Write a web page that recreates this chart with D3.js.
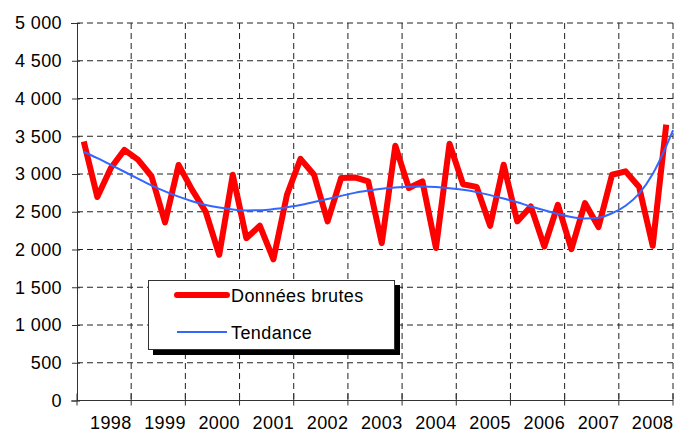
<!DOCTYPE html>
<html>
<head>
<meta charset="utf-8">
<script src="https://cdn.jsdelivr.net/npm/d3@7"></script>
<style>
  body { margin: 0; background: #fff; }
  svg { display: block; font-family: "Liberation Sans", Arial, sans-serif; }
</style>
</head>
<body>
<svg id="chart" width="676" height="432"></svg>
<script>
// DATA
const years = ["1998", "1999", "2000", "2001", "2002", "2003", "2004", "2005", "2006", "2007", "2008"];
const quarters = ["T1", "T2", "T3", "T4"];
const categories = years.flatMap(y => quarters.map(q => y + " " + q));

const rawValues = [
  3430, 2695, 3080, 3320, 3190, 2970, 2360, 3120, 2790, 2500, 1930,
  2990, 2150, 2314, 1870, 2725, 3200, 2990, 2372, 2947, 2955, 2902,
  2085, 3375, 2814, 2902, 2020, 3400, 2865, 2830, 2314, 3123, 2372,
  2571, 2040, 2593, 2005, 2615, 2297, 2990, 3035, 2827, 2049, 3654
];

// trend read per quarter, last value sits on the right edge of the plot
const trendValues = [
  3295, 3210, 3120, 3030, 2940, 2850, 2770, 2700, 2640, 2590, 2555,
  2530, 2518, 2520, 2535, 2560, 2590, 2630, 2670, 2710, 2750, 2780,
  2805, 2822, 2832, 2835, 2828, 2812, 2790, 2760, 2720, 2675, 2625,
  2570, 2520, 2470, 2430, 2410, 2420, 2480, 2580, 2740, 3000, 3370,
  3580
];

const yTicks = d3.range(0, 5001, 500);
const seriesNames = ["Données brutes", "Tendance"];

// LAYOUT
const mLeft = 77, mRight = 673, mTop = 23, mBottom = 400.5;
const svg = d3.select("#chart");

const x = d3.scaleBand().domain(d3.range(categories.length)).range([mLeft, mRight]);
const xLin = d3.scaleLinear().domain([0, categories.length]).range([mLeft, mRight]);
const y = d3.scaleLinear().domain([0, 5000]).range([mBottom, mTop]);

const fmt = v => d3.format(",")(v).replace(/,/g, " ");

// horizontal grid
svg.append("g")
  .selectAll("line")
  .data(yTicks.filter(d => d > 0))
  .join("line")
  .attr("x1", mLeft).attr("x2", mRight)
  .attr("y1", d => y(d)).attr("y2", d => y(d))
  .attr("stroke", "#222").attr("stroke-width", 1)
  .attr("stroke-dasharray", "6,4");

// vertical grid every 4 quarters
const tickIdx = d3.range(4, categories.length + 1, 4);
svg.append("g")
  .selectAll("line")
  .data(tickIdx)
  .join("line")
  .attr("x1", d => xLin(d)).attr("x2", d => xLin(d))
  .attr("y1", mTop).attr("y2", mBottom)
  .attr("stroke", "#222").attr("stroke-width", 1)
  .attr("stroke-dasharray", "6,4");

// y axis
const yAxis = svg.append("g").attr("transform", `translate(${mLeft},0)`)
  .call(d3.axisLeft(y).tickValues(yTicks).tickFormat(fmt).tickSize(6).tickPadding(9));
yAxis.select(".domain").attr("stroke", "#333");
yAxis.selectAll(".tick line").attr("x2", 3).attr("x1", -5).attr("stroke", "#333");
yAxis.selectAll("text").attr("font-size", 18).attr("fill", "#000")
  .attr("font-family", "'Liberation Sans', Arial, sans-serif").attr("letter-spacing", 0.4);

// x axis
svg.append("line")
  .attr("x1", mLeft).attr("x2", mRight).attr("y1", mBottom).attr("y2", mBottom)
  .attr("stroke", "#333");
svg.append("g")
  .selectAll("line")
  .data(d3.range(0, categories.length + 1, 4))
  .join("line")
  .attr("x1", d => xLin(d)).attr("x2", d => xLin(d))
  .attr("y1", mBottom - 7).attr("y2", mBottom + 5)
  .attr("stroke", "#333");
svg.append("g")
  .selectAll("text")
  .data(years)
  .join("text")
  .attr("x", (d, i) => x(i * 4 + 2) + x.bandwidth() / 2)
  .attr("y", 429)
  .attr("text-anchor", "middle")
  .attr("font-size", 18).attr("letter-spacing", 0.4)
  .text(d => d);

// series
const raw = d3.line()
  .x((d, i) => x(i) + x.bandwidth() / 2)
  .y(d => y(d));
svg.append("path")
  .attr("d", raw(rawValues))
  .attr("fill", "none").attr("stroke", "#ff0000")
  .attr("stroke-width", 6).attr("stroke-linejoin", "round");

const trend = d3.line()
  .x((d, i) => i < categories.length ? xLin(i + 0.5) : xLin(categories.length))
  .y(d => y(d))
  .curve(d3.curveMonotoneX);
svg.append("path")
  .attr("d", trend(trendValues))
  .attr("fill", "none").attr("stroke", "#3366ff")
  .attr("stroke-width", 2);

// legend
const lg = svg.append("g");
lg.append("rect").attr("x", 153).attr("y", 285).attr("width", 247).attr("height", 70).attr("fill", "#000");
lg.append("rect").attr("x", 148.5).attr("y", 280.5).attr("width", 246).attr("height", 69)
  .attr("fill", "#fff").attr("stroke", "#333");
const lgColors = ["#ff0000", "#3366ff"];
const lgWidths = [6, 2];
const lgY = [295, 332];
seriesNames.forEach((name, i) => {
  lg.append("line")
    .attr("x1", 177).attr("x2", 227).attr("y1", lgY[i]).attr("y2", lgY[i])
    .attr("stroke", lgColors[i]).attr("stroke-width", lgWidths[i])
    .attr("stroke-linecap", i === 0 ? "round" : "butt");
  lg.append("text")
    .attr("x", 231).attr("y", lgY[i] + 6.5)
    .attr("font-size", 18).attr("letter-spacing", 0.4)
    .text(name);
});
</script>
</body>
</html>
